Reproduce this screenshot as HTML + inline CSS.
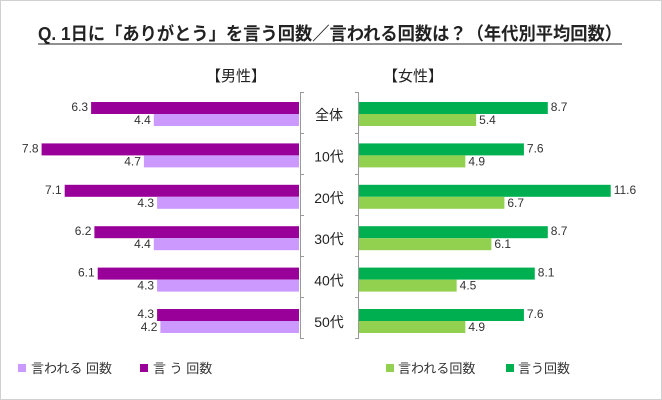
<!DOCTYPE html>
<html><head><meta charset="utf-8"><style>
body{margin:0;background:#fff}
svg{display:block;font-family:"Liberation Sans","Noto Sans CJK JP",sans-serif}
</style></head><body>
<svg width="662" height="400">
<rect x="0.5" y="0.5" width="661" height="399" fill="#fff" stroke="#d0d0d0"/>
<text x="38" y="40" font-size="18" font-weight="bold" fill="#222" textLength="584" lengthAdjust="spacingAndGlyphs">Q. 1日に「ありがとう」を言う回数／言われる回数は？（年代別平均回数）</text>
<line x1="38" y1="44" x2="622" y2="44" stroke="#222" stroke-width="1"/>
<text x="236" y="81" text-anchor="middle" font-size="15" fill="#222">【男性】</text>
<text x="413" y="81" text-anchor="middle" font-size="15" fill="#222">【女性】</text>
<g id="axes"></g>
<g id="bars"></g>
<g font-size="13" fill="#333">
<rect x="18" y="364" width="8" height="8" fill="#cc99ff"/>
<text x="31" y="373">言われる 回数</text>
<rect x="140" y="364" width="8" height="8" fill="#990099"/>
<text x="153" y="373">言 う 回数</text>
<rect x="386" y="364" width="8" height="8" fill="#92d050"/>
<text x="398" y="373">言われる回数</text>
<rect x="506" y="364" width="8" height="8" fill="#00b050"/>
<text x="518" y="373">言う回数</text>
</g>
</svg>
<script>
const categories=["全体","10代","20代","30代","40代","50代"];
const maleSay=[6.3,7.8,7.1,6.2,6.1,4.3];
const maleSaidTo=[4.4,4.7,4.3,4.4,4.3,4.2];
const femaleSay=[8.7,7.6,11.6,8.7,8.1,7.6];
const femaleSaidTo=[5.4,4.9,6.7,6.1,4.5,4.9];
const NS="http://www.w3.org/2000/svg";
const mAxis=299, fAxis=359, mScale=33, fScale=21.7;
const rowTop=i=>102+i*41.4;
const xm=v=>mAxis-v*mScale, xf=v=>fAxis+v*fScale;
const bars=document.getElementById('bars'), axes=document.getElementById('axes');
function mk(tag,attrs,parent){const e=document.createElementNS(NS,tag);for(const k in attrs)e.setAttribute(k,attrs[k]);parent.appendChild(e);return e;}
let l1=mk('line',{x1:300.5,y1:92,x2:300.5,y2:338,stroke:'#999'},axes);


let l2=mk('line',{x1:358.5,y1:92,x2:358.5,y2:338,stroke:'#999'},axes);


for(let i=0;i<=categories.length;i++){
 const y=Math.round(92+i*41)+0.5;
 let t=mk('line',{x1:300,y1:y,x2:304,y2:y,stroke:'#999'},axes);
 
 
 let t2=mk('line',{x1:355,y1:y,x2:359,y2:y,stroke:'#999'},axes);
 
 
}
categories.forEach((c,i)=>{
 const y=rowTop(i);
 let lab=mk('text',{x:329,y:y+18,'text-anchor':'middle','font-size':14,fill:'#222'},axes);
 lab.textContent=c;
 
 
 let b=mk('rect',{x:xm(maleSay[i]),y:y,width:maleSay[i]*mScale,height:12,fill:'#990099'},bars);
 
 
 let b2=mk('rect',{x:xm(maleSaidTo[i]),y:y+12,width:maleSaidTo[i]*mScale,height:12,fill:'#cc99ff'},bars);
 
 
 let b3=mk('rect',{x:fAxis,y:y,width:femaleSay[i]*fScale,height:12,fill:'#00b050'},bars);
 
 
 let b4=mk('rect',{x:fAxis,y:y+12,width:femaleSaidTo[i]*fScale,height:12,fill:'#92d050'},bars);
 
 
 const lbl=(x,yy,anchor,v,name)=>{let t=mk('text',{x:x,y:yy,'text-anchor':anchor,'font-size':12,fill:'#333'},bars);t.textContent=v.toFixed(1);
  
  };
 lbl(xm(maleSay[i])-3,y+9,'end',maleSay[i],'value-male-say');
 lbl(xm(maleSaidTo[i])-3,y+22,'end',maleSaidTo[i],'value-male-said-to');
 lbl(xf(femaleSay[i])+3,y+9,'start',femaleSay[i],'value-female-say');
 lbl(xf(femaleSaidTo[i])+3,y+22,'start',femaleSaidTo[i],'value-female-said-to');
});
</script>
</body></html>
